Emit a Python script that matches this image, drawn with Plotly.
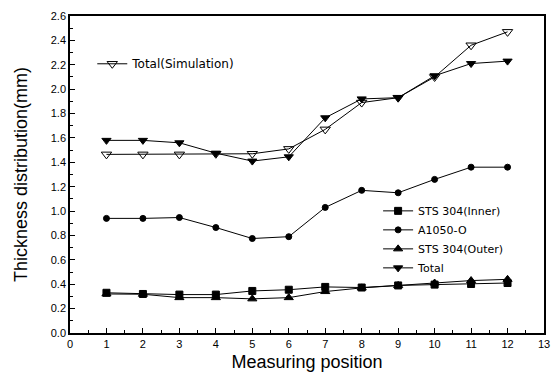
import plotly.graph_objects as go

positions = [1, 2, 3, 4, 5, 6, 7, 8, 9, 10, 11, 12]
sts_inner = [0.33, 0.32, 0.315, 0.315, 0.345, 0.355, 0.378, 0.373, 0.39, 0.397, 0.402, 0.41]
a1050 = [0.94, 0.94, 0.947, 0.865, 0.775, 0.79, 1.03, 1.17, 1.15, 1.26, 1.36, 1.36]
sts_outer = [0.32, 0.318, 0.29, 0.29, 0.28, 0.29, 0.34, 0.37, 0.39, 0.41, 0.43, 0.44]
total = [1.58, 1.58, 1.56, 1.475, 1.41, 1.445, 1.765, 1.92, 1.93, 2.11, 2.21, 2.23]
total_sim = [1.465, 1.465, 1.465, 1.47, 1.47, 1.51, 1.67, 1.89, 1.93, 2.10, 2.36, 2.47]
x_ticks = list(range(0, 14))

font = "Liberation Sans, Arial, sans-serif"
legend_font = "DejaVu Sans, sans-serif"
fig = go.Figure()

def add(y, name, symbol, legend="legend", size=8):
    fig.add_trace(go.Scatter(
        x=positions, y=y, name=name, mode="lines+markers",
        line=dict(color="black", width=1),
        marker=dict(symbol=symbol, size=size, color="black",
                    line=dict(color="black", width=1)),
        legend=legend,
    ))

add(sts_inner, "STS 304(Inner)", "square", size=7)
add(a1050, "A1050-O", "circle", size=6)
add(sts_outer, "STS 304(Outer)", "triangle-up")
add(total, "Total", "triangle-down")
fig.add_trace(go.Scatter(
    x=positions, y=total_sim, name="Total(Simulation)", mode="lines+markers",
    line=dict(color="black", width=1),
    marker=dict(symbol="triangle-down-open", size=9, color="black",
                line=dict(color="black", width=1)),
    legend="legend2",
))

fig.update_layout(
    width=553, height=382,
    margin=dict(l=70, r=9, t=16, b=49),
    paper_bgcolor="white", plot_bgcolor="white",
    font=dict(family=font, color="black", size=11),
    legend=dict(x=0.65, y=0.431, xanchor="left", yanchor="top",
                bgcolor="rgba(0,0,0,0)", font=dict(size=11, family=legend_font),
                tracegroupgap=0, itemwidth=30),
    legend2=dict(x=0.047, y=0.895, xanchor="left", yanchor="top",
                 bgcolor="rgba(0,0,0,0)", font=dict(size=12, family=legend_font)),
    xaxis=dict(
        range=[0, 13], tickmode="array", tickvals=x_ticks,
        ticktext=[str(v) for v in x_ticks],
        ticklabeloverflow="allow",
        ticks="inside", ticklen=5, tickcolor="black",
        minor=dict(ticks="inside", ticklen=3, tickvals=[v + 0.5 for v in x_ticks[:-1]], tickcolor="black"),
        showline=True, linecolor="black", linewidth=1.5, mirror=True,
        showgrid=False, zeroline=False,
        title=dict(text="Measuring position", font=dict(size=18), standoff=6),
        tickfont=dict(size=11),
        automargin=False,
    ),
    yaxis=dict(
        range=[0, 2.6], tickmode="linear", tick0=0, dtick=0.2,
        tickformat=".1f",
        ticks="inside", ticklen=5, tickcolor="black",
        minor=dict(ticks="inside", ticklen=3, dtick=0.1, tickcolor="black"),
        showline=True, linecolor="black", linewidth=1.5, mirror=True,
        showgrid=False, zeroline=False,
        title=dict(text="Thickness distribution(mm)", font=dict(size=18), standoff=18),
        tickfont=dict(size=11),
        automargin=False,
    ),
)

fig.write_html(
    "out.html",
    config={"displayModeBar": False},
    post_script="document.body.style.margin='0';document.body.style.overflow='hidden';",
)
